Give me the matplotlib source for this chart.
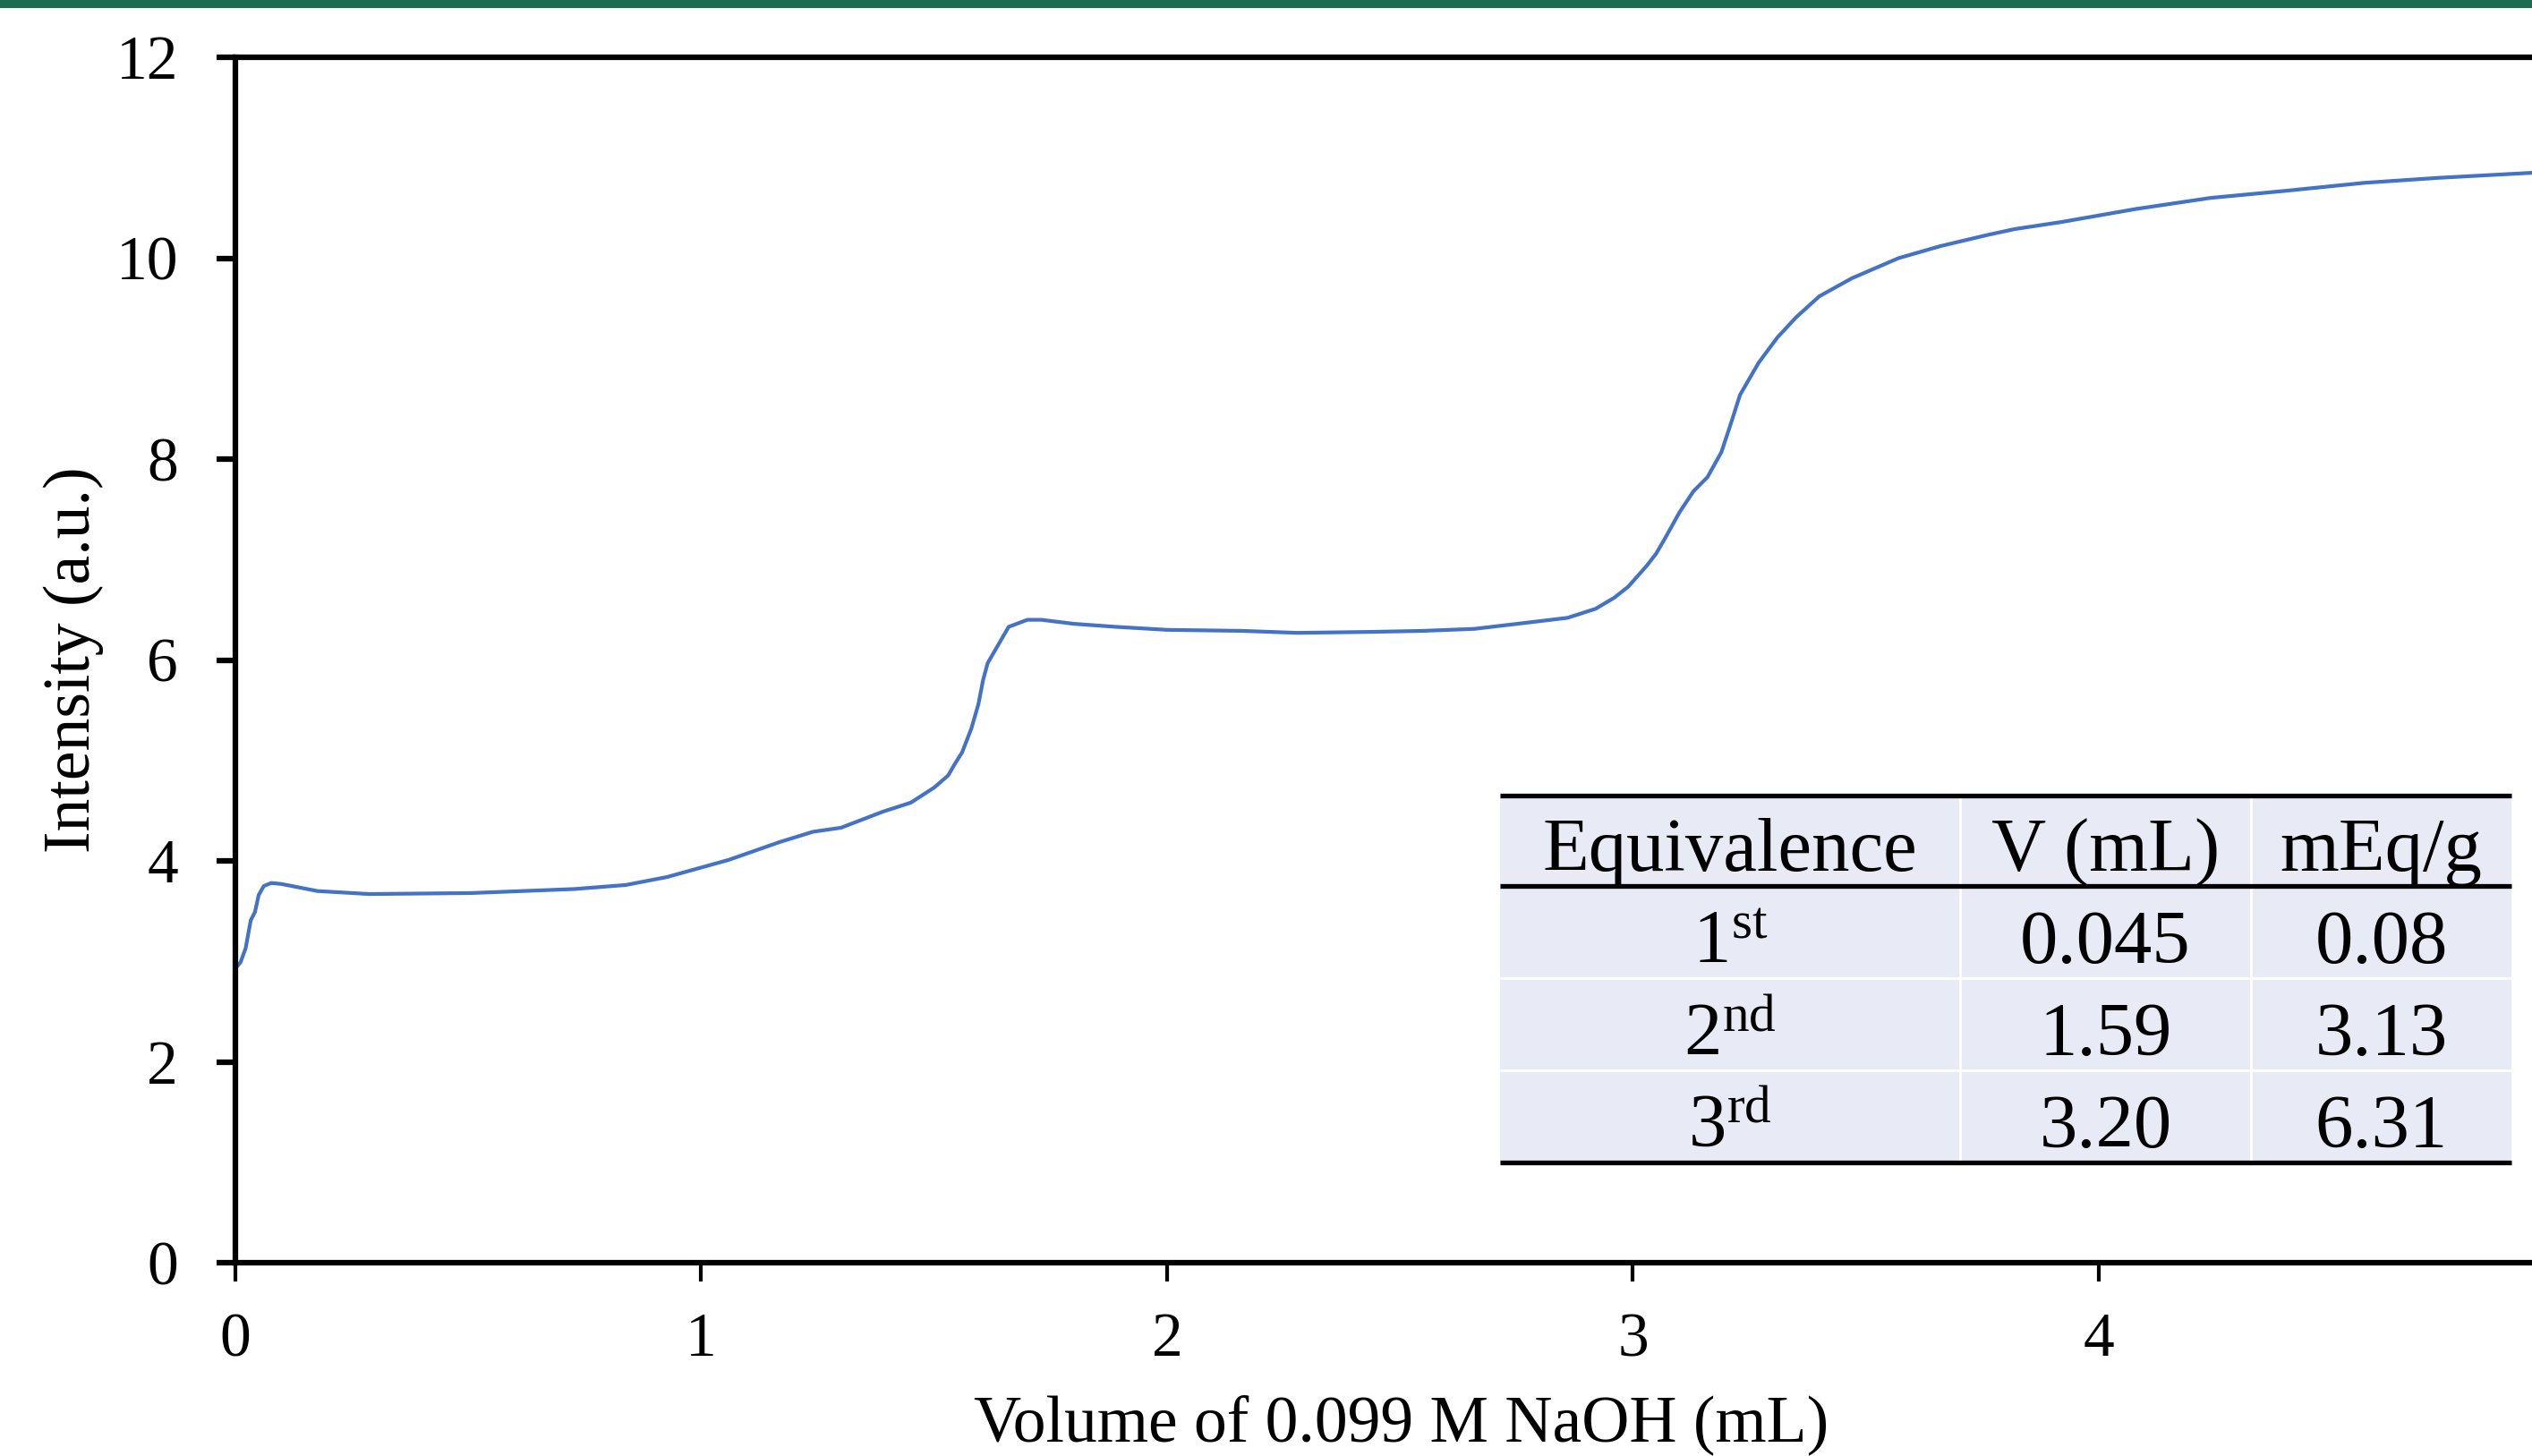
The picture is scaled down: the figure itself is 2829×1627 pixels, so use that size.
import matplotlib
matplotlib.use('Agg')
import matplotlib.pyplot as plt
from matplotlib.patches import Rectangle
from matplotlib.lines import Line2D

# ---------------- data ----------------
volume = [0.000, 0.011, 0.022, 0.033, 0.042, 0.050, 0.061, 0.077, 0.099, 0.176,
          0.287, 0.507, 0.728, 0.838, 0.927, 1.059, 1.170, 1.240, 1.300, 1.390,
          1.450, 1.500, 1.530, 1.545, 1.560, 1.580, 1.595, 1.605, 1.615, 1.630,
          1.645, 1.660, 1.700, 1.730, 1.800, 1.890, 2.000, 2.160, 2.280, 2.440,
          2.550, 2.660, 2.770, 2.860, 2.920, 2.960, 2.990, 3.030, 3.050, 3.070,
          3.100, 3.130, 3.160, 3.190, 3.210, 3.230, 3.270, 3.310, 3.350, 3.400,
          3.470, 3.570, 3.660, 3.760, 3.820, 3.920, 4.080, 4.240, 4.400, 4.570,
          4.730, 4.930]
intensity = [2.93, 2.99, 3.13, 3.41, 3.49, 3.66, 3.75, 3.78, 3.77, 3.70,
             3.67, 3.68, 3.72, 3.76, 3.84, 4.01, 4.19, 4.29, 4.33, 4.49,
             4.58, 4.73, 4.85, 4.97, 5.08, 5.32, 5.56, 5.80, 5.97, 6.09,
             6.21, 6.33, 6.40, 6.40, 6.36, 6.33, 6.30, 6.29, 6.27, 6.28,
             6.29, 6.31, 6.37, 6.42, 6.51, 6.62, 6.73, 6.94, 7.06, 7.22,
             7.47, 7.68, 7.82, 8.07, 8.35, 8.64, 8.96, 9.21, 9.41, 9.62,
             9.80, 10.00, 10.12, 10.23, 10.29, 10.36, 10.49, 10.60, 10.67, 10.75,
             10.80, 10.85]

x_ticks = [0, 1, 2, 3, 4]
y_ticks = [0, 2, 4, 6, 8, 10, 12]

table_header = ['Equivalence', 'V (mL)', 'mEq/g']
table_order = ['1', '2', '3']
table_suffix = ['st', 'nd', 'rd']
table_volume = ['0.045', '1.59', '3.20']
table_meq = ['0.08', '3.13', '6.31']

# ---------------- style ----------------
plt.rcParams['font.family'] = ['Liberation Serif', 'DejaVu Serif']
plt.rcParams['mathtext.fontset'] = 'custom'
plt.rcParams['mathtext.rm'] = 'Liberation Serif'
plt.rcParams['mathtext.it'] = 'Liberation Serif:italic'
plt.rcParams['mathtext.bf'] = 'Liberation Serif:bold'

W, H = 2829, 1627
fig = plt.figure(figsize=(W / 100, H / 100), dpi=100)
fig.patch.set_facecolor('white')


def fx(px):
    return px / W


def fy(py):
    return 1 - py / H


# green band on top
fig.patches.append(Rectangle((0, fy(9)), 1, 9 / H, transform=fig.transFigure,
                             facecolor='#1e6b51', edgecolor='none', zorder=0))

# ---------------- main axes ----------------
L, R, T, B = 263, W, 64, 1411
ax = fig.add_axes([fx(L), fy(B), fx(R) - fx(L), fy(T) - fy(B)])
ax.plot(volume, intensity, color='#4472c4', lw=3.0, solid_joinstyle='round')
ax.set_xlim(0, 4.93)
ax.set_ylim(0, 12)
ax.set_xticks(x_ticks)
ax.set_yticks(y_ticks)

for side in ['left', 'bottom', 'top']:
    ax.spines[side].set_linewidth(4.5)
    ax.spines[side].set_color('black')
ax.spines['right'].set_visible(False)

ax.tick_params(axis='y', direction='out', length=15, width=4.5, labelsize=50,
               pad=31, colors='black')
ax.tick_params(axis='x', direction='out', length=15, width=3, labelsize=50,
               pad=25, colors='black')

ax.set_xlabel('Volume of 0.099 M NaOH (mL)', fontsize=53)
ax.xaxis.set_label_coords((1566 - L) / (R - L), (B - 1558) / (B - T))
ax.set_ylabel('Intensity (a.u.)', fontsize=53)
ax.yaxis.set_label_coords((116 - L) / (R - L), (B - 737) / (B - T))

# ---------------- table ----------------
TL, TR, TT, TB = 1676, 2806, 889, 1299
tax = fig.add_axes([fx(TL), fy(TB), fx(TR) - fx(TL), fy(TT) - fy(TB)])
tax.set_xlim(TL, TR)
tax.set_ylim(TB, TT)
tax.axis('off')

tax.add_patch(Rectangle((TL, TT), TR - TL, TB - TT, facecolor='#e8ebf5',
                        edgecolor='none', zorder=1))
col_edges = [TL, 2190, 2515, TR]
header_bottom = 990
row_h = 103
for xs in col_edges[1:-1]:
    tax.add_line(Line2D([xs, xs], [TT, TB], color='white', lw=2, zorder=2))
for i in range(1, len(table_order)):
    yl = header_bottom + i * row_h
    tax.add_line(Line2D([TL, TR], [yl, yl], color='white', lw=2, zorder=2))
for yl in [TT, header_bottom, TB]:
    tax.add_line(Line2D([TL, TR], [yl, yl], color='black', lw=3.8, zorder=3,
                        clip_on=False, solid_capstyle='butt'))

col_centers = [(col_edges[i] + col_edges[i + 1]) / 2 for i in range(3)]
tfs = 61
for c, txt in zip(col_centers, table_header):
    tax.text(c, TT + 84, txt, ha='center', va='baseline', fontsize=tfs, zorder=4)
for i in range(len(table_order)):
    base = header_bottom + i * row_h + 86
    ordinal = table_order[i] + r'$^{\mathrm{' + table_suffix[i] + '}}$'
    cells = [ordinal, table_volume[i], table_meq[i]]
    for c, txt in zip(col_centers, cells):
        tax.text(c, base, txt, ha='center', va='baseline', fontsize=tfs, zorder=4)

fig.savefig('out.png', dpi=100, facecolor='white')
